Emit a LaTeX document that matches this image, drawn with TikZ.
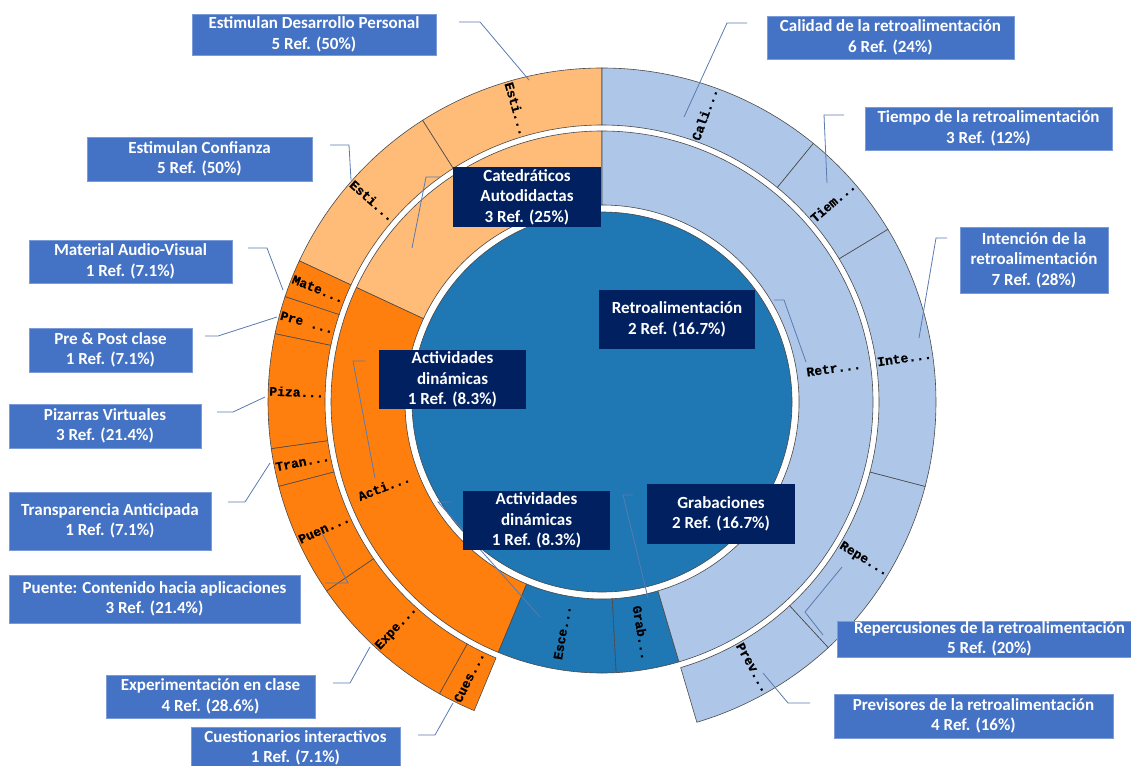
\documentclass[tikz,border=0pt]{standalone}
\usepackage{fontspec}
\setmainfont{Carlito}
\newfontfamily\monof{Liberation Mono Bold}[FakeBold=0.6]
\definecolor{cA}{HTML}{1F77B4}
\definecolor{cB}{HTML}{AEC7E8}
\definecolor{cC}{HTML}{FF7F0E}
\definecolor{cD}{HTML}{FFBB78}
\definecolor{boxblue}{HTML}{4472C4}
\definecolor{navy}{HTML}{002060}
\definecolor{leader}{HTML}{5A7AB0}
\definecolor{segline}{HTML}{4A4A4A}
\definecolor{boxedge}{HTML}{7A9AD8}
\newcommand\sect[5]{%
  \filldraw[fill=#1, draw=segline, line width=0.6pt] ({-(#2)}:#4) arc[start angle={-(#2)}, end angle={-(#3)}, radius=#4] -- ({-(#3)}:#5) arc[start angle={-(#3)}, end angle={-(#2)}, radius=#5] -- cycle;}
\tikzset{
  obox/.style={fill=boxblue, draw=boxedge, line width=0.6pt, text=white, font=\bfseries\fontsize{17}{20.5}\selectfont, align=center, inner sep=0pt},
  ibox/.style={fill=navy, text=white, font=\bfseries\fontsize{17}{20.5}\selectfont, align=center, inner sep=0pt},
  rl/.style={font=\monof\fontsize{13}{13}\selectfont, inner sep=0pt, text=black},
  ldr/.style={draw=leader, line width=0.8pt},
}
\begin{document}
\begin{tikzpicture}[x=1pt,y=-1pt]
\useasboundingbox (0,0) rectangle (1131,765);
\begin{scope}[shift={(602,402)}]
  % center
  \filldraw[fill=cA, draw=segline, line width=0.6pt] (0,0) circle[radius=190];
  % middle ring
  \sect{cD}{90}{155}{197}{271}
  \sect{cC}{155}{247.5}{197}{271}
  \sect{cA}{247.5}{273}{197}{271}
  \sect{cA}{273}{286.5}{197}{271}
  \sect{cB}{286.5}{450}{197}{271}
  % outer ring
  \sect{cD}{90}{122.5}{277}{334}
  \sect{cD}{122.5}{155}{277}{334}
  \sect{cC}{155}{161.61}{277}{334}
  \sect{cC}{161.61}{168.21}{277}{334}
  \sect{cC}{168.21}{188.04}{277}{334}
  \sect{cC}{188.04}{194.64}{277}{334}
  \sect{cC}{194.64}{214.46}{277}{334}
  \sect{cC}{214.46}{240.89}{277}{334}
  \sect{cC}{240.89}{247.5}{277}{334}
  \sect{cB}{286.5}{312.66}{277}{334}
  \sect{cB}{312.66}{345.36}{277}{334}
  \sect{cB}{345.36}{391.14}{277}{334}
  \sect{cB}{391.14}{410.76}{277}{334}
  \sect{cB}{410.76}{450}{277}{334}
  % ring labels outer
  \node[rl, rotate=-73.75] (rEstiD) at ({-(106.25)}:305.5) {Esti...};
  \node[rl, rotate=-41.25] (rEstiC) at ({-(138.75)}:305.5) {Esti...};
  \node[rl, rotate=-21.7] (rMate) at ({-(158.3)}:305.5) {Mate...};
  \node[rl, rotate=-15.1] (rPre) at ({-(164.9)}:305.5) {Pre ...};
  \node[rl, rotate=-1.9] (rPiza) at ({-(178.1)}:305.5) {Piza...};
  \node[rl, rotate=11.3] (rTran) at ({-(191.3)}:305.5) {Tran...};
  \node[rl, rotate=24.5] (rPuen) at ({-(204.5)}:305.5) {Puen...};
  \node[rl, rotate=47.7] (rExpe) at ({-(227.7)}:305.5) {Expe...};
  \node[rl, rotate=64.2] (rCues) at ({-(244.2)}:305.5) {Cues...};
  \node[rl, rotate=-60.4] (rPrev) at ({-(299.6)}:305.5) {Prev...};
  \node[rl, rotate=-31] (rRepe) at ({-(329)}:305.5) {Repe...};
  \node[rl, rotate=8.25] (rInte) at ({-(8.25)}:305.5) {Inte...};
  \node[rl, rotate=40.95] (rTiem) at ({-(40.95)}:305.5) {Tiem...};
  \node[rl, rotate=70.4] (rCali) at ({-(70.4)}:305.5) {Cali...};
  % ring labels middle
  \node[rl, rotate=21.25] (rActi) at ({-(201.25)}:234) {Acti...};
  \node[rl, rotate=80.25] (rEsce) at ({-(260.25)}:234) {Esce...};
  \node[rl, rotate=-80.25] (rGrab) at ({-(279.75)}:234) {Grab...};
  \node[rl, rotate=8.25] (rRetr) at ({-(8.25)}:234) {Retr...};
\end{scope}
% leader coordinates
\coordinate (l1a) at (459,22);  \coordinate (l1b) at (480,22);  \coordinate (l1c) at (529,80);
\coordinate (l2a) at (747,23);  \coordinate (l2b) at (727,23);  \coordinate (l2c) at (684,117);
\coordinate (l3a) at (844,115); \coordinate (l3b) at (824,115); \coordinate (l3c) at (827,183);
\coordinate (l4a) at (330,145); \coordinate (l4b) at (349,145); \coordinate (l4c) at (351,180);
\coordinate (l5a) at (947,238); \coordinate (l5b) at (936,238); \coordinate (l5c) at (919,338);
\coordinate (l6a) at (248,248); \coordinate (l6b) at (267,248); \coordinate (l6c) at (283,290);
\coordinate (l7a) at (205,336); \coordinate (l7b) at (218,336); \coordinate (l7c) at (277,317);
\coordinate (l8a) at (217,412); \coordinate (l8b) at (233,412); \coordinate (l8c) at (265,397);
\coordinate (l9a) at (228,502); \coordinate (l9b) at (245,502); \coordinate (l9c) at (270,463);
\coordinate (l10a) at (325,583); \coordinate (l10b) at (348,583); \coordinate (l10c) at (322,533);
\coordinate (l11a) at (333,683); \coordinate (l11b) at (350,683); \coordinate (l11c) at (370,647);
\coordinate (l12a) at (418,735); \coordinate (l12b) at (435,735); \coordinate (l12c) at (453,703);
\coordinate (l13a) at (823,635); \coordinate (l13b) at (805,612); \coordinate (l13c) at (842,567);
\coordinate (l14a) at (810,703); \coordinate (l14b) at (788,703); \coordinate (l14c) at (763,673);
\coordinate (l15a) at (440,177); \coordinate (l15b) at (426,177); \coordinate (l15c) at (412,248);
\coordinate (l16a) at (774,300); \coordinate (l16b) at (784,300); \coordinate (l16c) at (806,362);
\coordinate (l17a) at (365,361); \coordinate (l17b) at (353,361); \coordinate (l17c) at (375,478);
\coordinate (l18a) at (452,502); \coordinate (l18b) at (438,502); \coordinate (l18c) at (540,617);
\coordinate (l19a) at (633,495); \coordinate (l19b) at (623,495); \coordinate (l19c) at (648,598);
\foreach \i in {1,...,19} { \draw[ldr] (l\i a) -- (l\i b) -- (l\i c); }
% outer boxes
\node[obox, minimum width=244, minimum height=41] (bEstiD) at (314,34.5) {Estimulan Desarrollo Personal\\5 Ref. (50\%)};
\node[obox, minimum width=247, minimum height=43] (bCali) at (890.5,37.5) {Calidad de la retroalimentación\\6 Ref. (24\%)};
\node[obox, minimum width=247, minimum height=43] (bTiem) at (988.5,128.5) {Tiempo de la retroalimentación\\3 Ref. (12\%)};
\node[obox, minimum width=225, minimum height=44] (bEstiC) at (199.5,159) {Estimulan Confianza\\5 Ref. (50\%)};
\node[obox, minimum width=148, minimum height=66] (bInte) at (1034,260) {Intención de la\\retroalimentación\\7 Ref. (28\%)};
\node[obox, minimum width=203, minimum height=43] (bMate) at (130.5,261.5) {Material Audio-Visual\\1 Ref. (7.1\%)};
\node[obox, minimum width=163, minimum height=44] (bPre) at (110.5,350) {Pre \& Post clase\\1 Ref. (7.1\%)};
\node[obox, minimum width=192, minimum height=44] (bPiza) at (105,426) {Pizarras Virtuales\\3 Ref. (21.4\%)};
\node[obox, minimum width=202, minimum height=58] (bTran) at (110,521) {Transparencia Anticipada\\1 Ref. (7.1\%)};
\node[obox, minimum width=291, minimum height=48] (bPuen) at (154.5,599) {Puente: Contenido hacia aplicaciones\\3 Ref. (21.4\%)};
\node[obox, minimum width=209, minimum height=43] (bExpe) at (210.5,696.5) {Experimentación en clase\\4 Ref. (28.6\%)};
\node[obox, minimum width=209, minimum height=42] (bCues) at (295.5,748) {Cuestionarios interactivos\\1 Ref. (7.1\%)};
\node[obox, minimum width=305, minimum height=36] (bRepe) at (989.5,639) {Repercusiones de la retroalimentación\\5 Ref. (20\%)};
\node[obox, minimum width=279, minimum height=44] (bPrev) at (973.5,716) {Previsores de la retroalimentación\\4 Ref. (16\%)};
% inner boxes
\node[ibox, minimum width=148, minimum height=60] (bCate) at (527,197) {Catedráticos\\Autodidactas\\3 Ref. (25\%)};
\node[ibox, minimum width=156, minimum height=59] (bRetr) at (677,319.5) {Retroalimentación\\2 Ref. (16.7\%)};
\node[ibox, minimum width=147, minimum height=59] (bActiA) at (452.5,379.5) {Actividades\\dinámicas\\1 Ref. (8.3\%)};
\node[ibox, minimum width=147, minimum height=59] (bActiB) at (536.5,520.5) {Actividades\\dinámicas\\1 Ref. (8.3\%)};
\node[ibox, minimum width=148, minimum height=60] (bGrab) at (721,514) {Grabaciones\\2 Ref. (16.7\%)};
\end{tikzpicture}
\end{document}
